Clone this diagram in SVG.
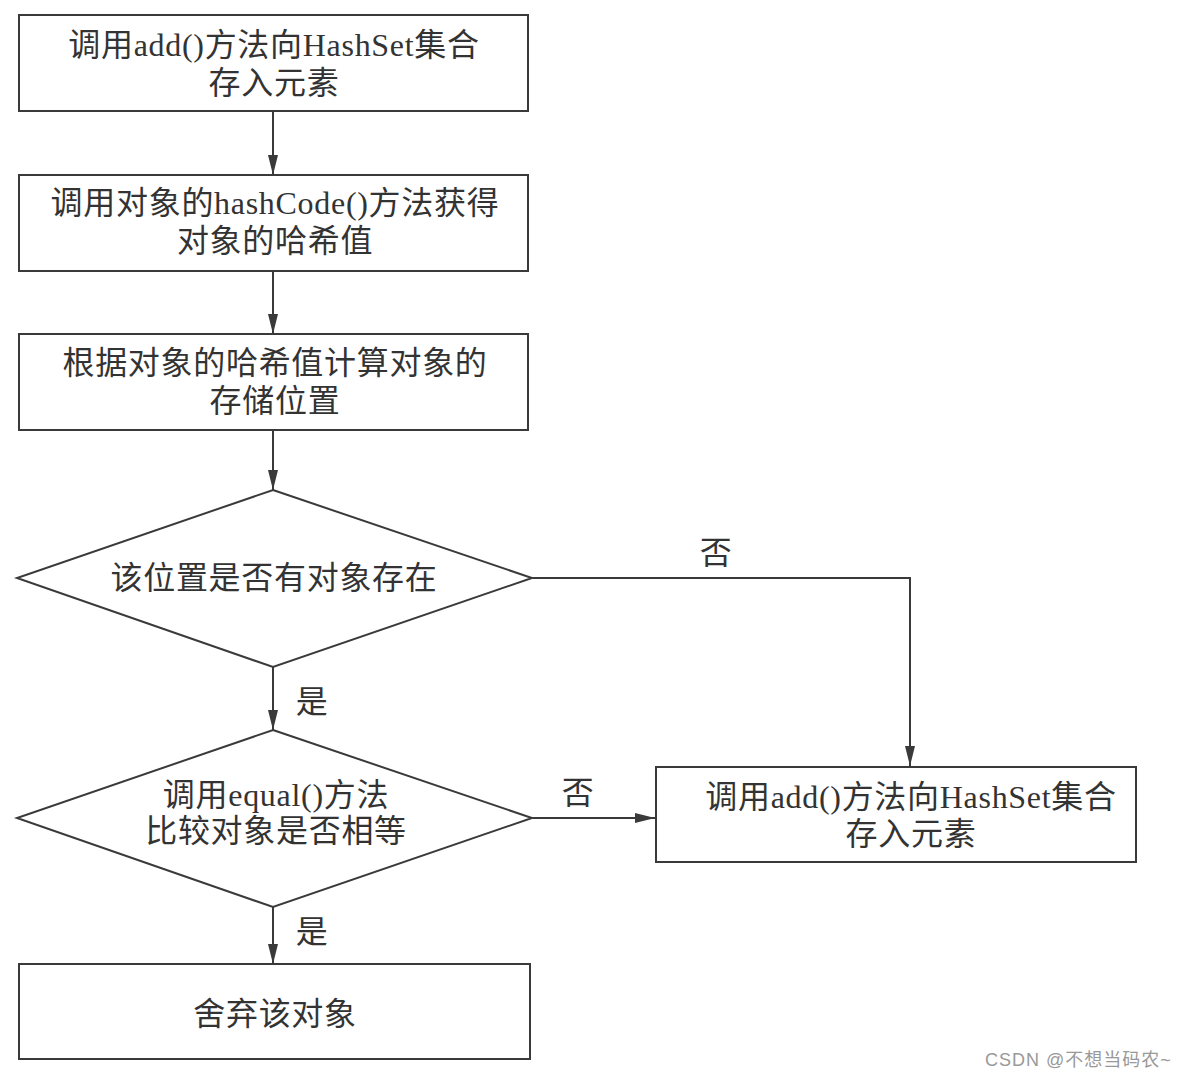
<svg xmlns="http://www.w3.org/2000/svg" width="1190" height="1080" viewBox="0 0 1190 1080">
<style>
.n{fill:#fff;stroke:#3a3a3a;stroke-width:2}
.t{font-family:"Liberation Serif","Noto Sans CJK SC",serif;font-size:32px;fill:#333;text-anchor:middle;dominant-baseline:central;letter-spacing:0.7px}
.c{fill:none;stroke:#3a3a3a;stroke-width:2}
.w{font-family:"Liberation Sans","Noto Sans CJK SC",sans-serif;font-size:18px;fill:#999;letter-spacing:1px}
</style>
<defs>
<marker id="a" viewBox="0 0 20 10" refX="20" refY="5" markerWidth="20" markerHeight="10" markerUnits="userSpaceOnUse" orient="auto">
<path d="M0,0 L20,5 L0,10 Z" fill="#3a3a3a"/>
</marker>
</defs>
<rect width="1190" height="1080" fill="#fff"/>
<g id="connectors">
<line class="c" x1="273" y1="111" x2="273" y2="175" marker-end="url(#a)"/>
<line class="c" x1="273" y1="271" x2="273" y2="334" marker-end="url(#a)"/>
<line class="c" x1="273" y1="430" x2="273" y2="490" marker-end="url(#a)"/>
<line class="c" x1="273" y1="667" x2="273" y2="730" marker-end="url(#a)"/>
<line class="c" x1="273" y1="907" x2="273" y2="964" marker-end="url(#a)"/>
<polyline class="c" points="532,578 910,578 910,766" marker-end="url(#a)"/>
<line class="c" x1="532" y1="818" x2="655" y2="818" marker-end="url(#a)"/>
<text class="t" x="716" y="553">否</text>
<text class="t" x="578" y="793">否</text>
<text class="t" x="312" y="702">是</text>
<text class="t" x="312" y="932">是</text>
</g>
<g id="n1">
<rect class="n" x="19" y="15" width="509" height="96"/>
<text class="t" x="274" y="45">调用add()方法向HashSet集合</text>
<text class="t" x="274" y="83">存入元素</text>
</g>
<g id="n2">
<rect class="n" x="19" y="175" width="509" height="96"/>
<text class="t" x="275" y="203">调用对象的hashCode()方法获得</text>
<text class="t" x="275" y="241">对象的哈希值</text>
</g>
<g id="n3">
<rect class="n" x="19" y="334" width="509" height="96"/>
<text class="t" x="275" y="363" letter-spacing="1.2">根据对象的哈希值计算对象的</text>
<text class="t" x="275" y="401">存储位置</text>
</g>
<g id="d1">
<polygon class="n" points="273,490 532,578 273,667 17,578"/>
<text class="t" x="274" y="578" letter-spacing="1">该位置是否有对象存在</text>
</g>
<g id="d2">
<polygon class="n" points="273,730 532,818 273,907 17,818"/>
<text class="t" x="276" y="795">调用equal()方法</text>
<text class="t" x="276" y="831">比较对象是否相等</text>
</g>
<g id="n4">
<rect class="n" x="656" y="767" width="480" height="95"/>
<text class="t" x="911" y="797">调用add()方法向HashSet集合</text>
<text class="t" x="911" y="834">存入元素</text>
</g>
<g id="n5">
<rect class="n" x="19" y="964" width="511" height="95"/>
<text class="t" x="275" y="1014">舍弃该对象</text>
</g>
<text class="w" x="985" y="1066">CSDN @不想当码农~</text>
</svg>
